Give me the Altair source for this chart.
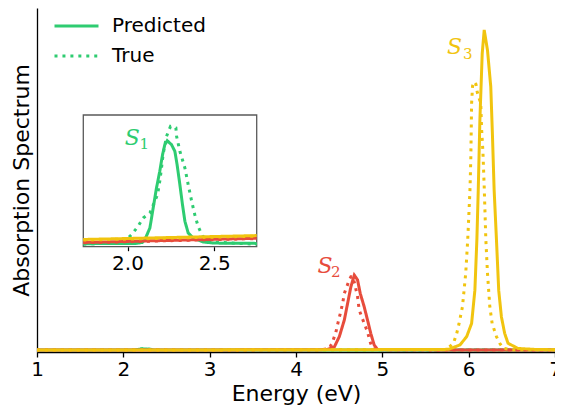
import altair as alt
import pandas as pd

# ---------------- data (values in units where the predicted S3 peak = 1000) -------------
ENERGY_TICKS = [1, 2, 3, 4, 5, 6, 7]
INSET_TICKS = [2.0, 2.5]
MAIN_E_RANGE = [1, 7]
MAIN_V_RANGE = [-6.25, 1068.75]
INSET_E_RANGE = [1.745, 2.745]
INSET_V_RANGE = [-0.08, 4.30]

S1_PRED_E = [1.0, 1.745, 2.05, 2.085, 2.100, 2.129, 2.148, 2.167, 2.186, 2.202, 2.215, 2.229,
             2.254, 2.273, 2.286, 2.302, 2.317, 2.331, 2.350, 2.379, 2.436, 2.5, 2.745, 7.0]
S1_PRED_V = [0.0, 0.02, 0.03, 0.06, 0.153, 0.542, 1.207, 1.872, 2.428, 2.980, 3.312, 3.445,
             3.312, 3.093, 2.647, 1.982, 1.317, 0.765, 0.376, 0.210, 0.076, 0.04, 0.03, 0.0]

S1_TRUE_E = [1.0, 1.745, 1.98, 2.023, 2.061, 2.090, 2.129, 2.153, 2.173, 2.186, 2.196, 2.205,
             2.225, 2.248, 2.279, 2.283, 2.302, 2.331, 2.350, 2.370, 2.388, 2.407, 2.433, 2.486,
             2.745, 7.0]
S1_TRUE_V = [0.0, 0.0, 0.08, 0.319, 0.599, 0.875, 1.041, 1.373, 1.649, 2.095, 2.537, 2.980,
             3.592, 3.924, 3.868, 3.592, 3.093, 2.537, 1.982, 1.430, 0.984, 0.599, 0.266, 0.076,
             0.0, 0.0]

S2_PRED_E = [1.0, 1.745, 2.745, 4.0, 4.30, 4.37, 4.445, 4.502, 4.56, 4.598, 4.636, 4.675,
             4.713, 4.744, 4.79, 4.828, 4.866, 4.905, 4.943, 5.1, 6.0, 7.0]
S2_PRED_V = [0.03, 0.06, 0.20, 0.6, 1.0, 2, 10, 42, 94, 146, 198, 234,
             219, 177, 135, 94, 52, 16, 2, 0.5, 0.3, 0.2]

S2_TRUE_E = [1.0, 1.745, 2.745, 4.0, 4.30, 4.387, 4.425, 4.463, 4.49, 4.514, 4.54, 4.56,
             4.617, 4.636, 4.66, 4.713, 4.732, 4.79, 4.828, 4.858, 4.885, 4.95, 6.0, 7.0]
S2_TRUE_V = [0.02, 0.05, 0.19, 0.5, 1.0, 5, 26, 57, 89, 115, 146, 177,
             219, 229, 229, 167, 125, 83, 57, 26, 5, 0.5, 0.3, 0.2]

S3_PRED_E = [1.0, 1.745, 2.745, 4.0, 5.0, 5.5, 5.767, 5.90, 5.977, 6.034, 6.072, 6.095, 6.111,
             6.13, 6.157, 6.18, 6.218, 6.256, 6.276, 6.295, 6.322, 6.348, 6.379, 6.417, 6.456,
             6.571, 6.78, 7.0]
S3_PRED_V = [0.08, 0.16, 0.29, 0.6, 1.2, 1.6, 2, 16, 42, 83, 187, 344, 500,
             719, 927, 1000, 937, 823, 667, 500, 344, 187, 104, 52, 21,
             5, 1.5, 1]

S3_TRUE_E = [1.0, 1.745, 2.745, 4.0, 5.0, 5.6, 5.747, 5.824, 5.862, 5.889, 5.928, 5.966, 5.989,
             6.015, 6.025, 6.034, 6.045, 6.063, 6.085, 6.10, 6.14, 6.15, 6.165, 6.18, 6.199,
             6.218, 6.245, 6.272, 6.322, 6.36, 6.40, 6.5, 7.0]
S3_TRUE_V = [0.07, 0.14, 0.27, 0.5, 1.0, 1.5, 2, 21, 52, 83, 135, 240, 344,
             500, 600, 770, 825, 838, 830, 805, 770, 690, 620, 510, 344,
             240, 135, 83, 42, 21, 5, 1, 0.5]

STATES = ["S1", "S2", "S3"]
KINDS = ["Predicted", "True"]

# state labels (main chart) and S1 label (inset)
MAIN_LABEL_STATE = ["S2", "S3"]
MAIN_LABEL_E = [4.336, 5.837]
MAIN_LABEL_V = [240, 925]
MAIN_SUB_TEXT = ["2", "3"]
MAIN_SUB_E = [4.462, 5.99]
MAIN_SUB_V = [229, 908]
INSET_LABEL_E = [2.027]
INSET_LABEL_V = [3.29]
INSET_SUB_E = [2.097]
INSET_SUB_V = [3.18]

GREEN, RED, YELLOW = "#2ecc71", "#e74c3c", "#f1c40f"
FONT = "DejaVu Sans"
LABEL_FONT = "DejaVu Serif"

series = [
    ("S1", "Predicted", S1_PRED_E, S1_PRED_V),
    ("S1", "True", S1_TRUE_E, S1_TRUE_V),
    ("S2", "Predicted", S2_PRED_E, S2_PRED_V),
    ("S2", "True", S2_TRUE_E, S2_TRUE_V),
    ("S3", "Predicted", S3_PRED_E, S3_PRED_V),
    ("S3", "True", S3_TRUE_E, S3_TRUE_V),
]
rows = []
for st, kind, es, vs in series:
    for e, v in zip(es, vs):
        rows.append({"state": st, "kind": kind, "E": e, "v": v})
df = pd.DataFrame(rows)

main_lab = pd.DataFrame({"state": MAIN_LABEL_STATE, "E": MAIN_LABEL_E, "v": MAIN_LABEL_V,
                         "txt": ["S"] * len(MAIN_LABEL_E)})
main_sub = pd.DataFrame({"state": MAIN_LABEL_STATE, "E": MAIN_SUB_E, "v": MAIN_SUB_V,
                         "txt": MAIN_SUB_TEXT})
inset_lab = pd.DataFrame({"state": ["S1"], "E": INSET_LABEL_E, "v": INSET_LABEL_V, "txt": ["S"]})
inset_sub = pd.DataFrame({"state": ["S1"], "E": INSET_SUB_E, "v": INSET_SUB_V, "txt": ["1"]})
frame = pd.DataFrame({"x0": [INSET_E_RANGE[0]], "x1": [INSET_E_RANGE[1]],
                      "y0": [INSET_V_RANGE[0]], "y1": [INSET_V_RANGE[1]]})

W, H = 518, 344

color_scale = alt.Scale(domain=STATES, range=[GREEN, RED, YELLOW])
dash_scale = alt.Scale(domain=KINDS, range=[[1, 0], [3, 4.95]])

main_x = alt.Scale(domain=MAIN_E_RANGE, nice=False, zero=False)
main_y = alt.Scale(domain=MAIN_V_RANGE, nice=False, zero=False)
inset_x = alt.Scale(domain=INSET_E_RANGE, range=[46.3, 219.7], nice=False, zero=False)
inset_y = alt.Scale(domain=INSET_V_RANGE, range=[238.7, 107], nice=False, zero=False)

x_axis = alt.Axis(values=ENERGY_TICKS, format="d", title="Energy (eV)", orient="bottom",
                  labelFontSize=20, titleFontSize=22, tickSize=5, tickWidth=1.3,
                  domainWidth=1.3, domainColor="black", tickColor="black", grid=False,
                  labelFlush=False, labelPadding=2, titlePadding=4)
y_axis = alt.Axis(title="Absorption Spectrum", labels=False, ticks=False, grid=False,
                  domainColor="black", domainWidth=1.3, titleFontSize=22, titlePadding=4)
inset_x_axis = alt.Axis(values=INSET_TICKS, format=".1f", title=None, orient="bottom",
                        offset=-(H - 238.7), domain=False, tickSize=4, tickWidth=1.2,
                        tickColor="black", labelFontSize=20, grid=False, labelFlush=False,
                        labelPadding=3)

legend = alt.Legend(title=None, orient="none", legendX=16, legendY=3, symbolType="stroke",
                    symbolSize=1936, symbolStrokeWidth=3, symbolStrokeColor=GREEN,
                    labelFontSize=20, labelFont=FONT, labelColor="black", labelOffset=12,
                    clipHeight=30, rowPadding=0, padding=0)

color_enc = alt.Color("state:N", scale=color_scale, legend=None)
dash_enc = alt.StrokeDash("kind:N", scale=dash_scale, legend=legend)

main_lines = alt.Chart(df).mark_line(strokeWidth=3, strokeCap="butt").encode(
    x=alt.X("E:Q", scale=main_x, axis=x_axis),
    y=alt.Y("v:Q", scale=main_y, axis=y_axis),
    color=color_enc,
    strokeDash=dash_enc,
)
main_s = alt.Chart(main_lab).mark_text(font=LABEL_FONT, fontStyle="italic", fontSize=22,
                                       align="center", baseline="alphabetic").encode(
    x=alt.X("E:Q", scale=main_x, axis=x_axis),
    y=alt.Y("v:Q", scale=main_y, axis=y_axis),
    color=color_enc, text="txt:N")
main_n = alt.Chart(main_sub).mark_text(font=LABEL_FONT, fontSize=15,
                                       align="center", baseline="alphabetic").encode(
    x=alt.X("E:Q", scale=main_x, axis=x_axis),
    y=alt.Y("v:Q", scale=main_y, axis=y_axis),
    color=color_enc, text="txt:N")
main = alt.layer(main_lines, main_s, main_n)

inset_frame = alt.Chart(frame).mark_rect(fill="white", stroke="#5a5a5a", strokeWidth=1.3).encode(
    x=alt.X("x0:Q", scale=inset_x, axis=inset_x_axis),
    x2="x1:Q",
    y=alt.Y("y0:Q", scale=inset_y, axis=None),
    y2="y1:Q",
)
inset_lines = alt.Chart(df).transform_filter(
    alt.FieldRangePredicate(field="E", range=INSET_E_RANGE)
).mark_line(strokeWidth=3, strokeCap="butt").encode(
    x=alt.X("E:Q", scale=inset_x, axis=inset_x_axis),
    y=alt.Y("v:Q", scale=inset_y, axis=None),
    color=color_enc,
    strokeDash=dash_enc,
)
inset_s = alt.Chart(inset_lab).mark_text(font=LABEL_FONT, fontStyle="italic", fontSize=22,
                                         align="center", baseline="alphabetic").encode(
    x=alt.X("E:Q", scale=inset_x, axis=inset_x_axis),
    y=alt.Y("v:Q", scale=inset_y, axis=None),
    color=color_enc, text="txt:N")
inset_n = alt.Chart(inset_sub).mark_text(font=LABEL_FONT, fontSize=15,
                                         align="center", baseline="alphabetic").encode(
    x=alt.X("E:Q", scale=inset_x, axis=inset_x_axis),
    y=alt.Y("v:Q", scale=inset_y, axis=None),
    color=color_enc, text="txt:N")
inset = alt.layer(inset_frame, inset_lines, inset_s, inset_n)

chart = alt.layer(main, inset).resolve_scale(
    x="independent", y="independent"
).resolve_axis(
    x="independent", y="independent"
).properties(
    width=W, height=H,
    autosize=alt.AutoSizeParams(type="none"),
    padding={"left": 29, "top": 0, "right": 0, "bottom": 56},
    background="white",
).configure_view(stroke=None).configure_axis(
    labelFont=FONT, titleFont=FONT, titleFontWeight="normal",
    labelColor="black", titleColor="black",
)

chart.save("out.html", embed_options={"renderer": "svg", "actions": False})
